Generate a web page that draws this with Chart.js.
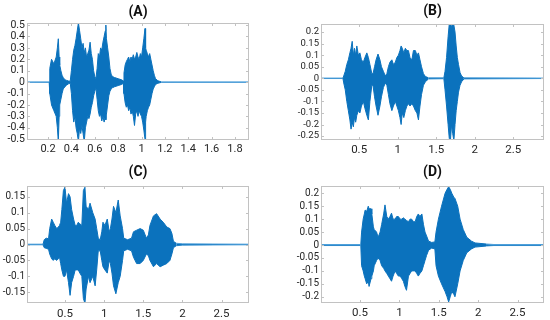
<!DOCTYPE html>
<html>
<head>
<meta charset="utf-8">
<script src="https://cdn.jsdelivr.net/npm/chart.js@4/dist/chart.umd.min.js"></script>
<style>
  body { margin: 0; background: #fff; }
  #wrap { position: relative; width: 550px; height: 320px; }
  canvas { position: absolute; }
</style>
</head>
<body>
<div id="wrap">
  <canvas id="chart-a" width="275" height="160" style="left:0;top:0"></canvas>
  <canvas id="chart-b" width="275" height="160" style="left:275px;top:0"></canvas>
  <canvas id="chart-c" width="275" height="160" style="left:0;top:160px"></canvas>
  <canvas id="chart-d" width="275" height="160" style="left:275px;top:160px"></canvas>
</div>
<script>
// (A) envelope of the waveform, seconds / amplitude
const aTime = [0.02, 0.21, 0.215, 0.23, 0.25, 0.27, 0.28, 0.288, 0.295, 0.30, 0.31, 0.32, 0.33, 0.345, 0.36, 0.375, 0.39,
  0.40, 0.41, 0.42, 0.43, 0.44, 0.45, 0.46, 0.47, 0.48, 0.49, 0.50, 0.51, 0.52, 0.53, 0.54, 0.55, 0.56, 0.57, 0.58, 0.59,
  0.60, 0.61, 0.62, 0.63, 0.64, 0.65, 0.66, 0.67, 0.68, 0.69, 0.695, 0.70, 0.71, 0.72, 0.73, 0.74, 0.75, 0.77, 0.80, 0.83,
  0.845, 0.85, 0.86, 0.87, 0.88, 0.89, 0.90, 0.91, 0.92, 0.93, 0.94, 0.95, 0.96, 0.97, 0.98, 0.99, 1.00, 1.01, 1.02, 1.03,
  1.035, 1.04, 1.05, 1.06, 1.07, 1.08, 1.09, 1.10, 1.11, 1.12, 1.14, 1.17, 1.92]
const aUpper = [0.001, 0.002, 0.12, 0.2, 0.16, 0.22, 0.3, 0.38, 0.22, 0.15, 0.1, 0.06, 0.04, 0.02, 0.015, 0.01, 0.008,
  0.1, 0.2, 0.28, 0.32, 0.38, 0.45, 0.52, 0.45, 0.38, 0.3, 0.34, 0.26, 0.3, 0.22, 0.25, 0.28, 0.35, 0.25, 0.2, 0.1,
  0.05, 0.03, 0.12, 0.25, 0.22, 0.3, 0.28, 0.35, 0.4, 0.45, 0.5, 0.38, 0.3, 0.22, 0.12, 0.07, 0.05, 0.04, 0.03, 0.02,
  0.01, 0.08, 0.15, 0.18, 0.2, 0.22, 0.18, 0.22, 0.2, 0.24, 0.2, 0.22, 0.26, 0.22, 0.2, 0.25, 0.22, 0.3, 0.38, 0.47,
  0.3, 0.28, 0.25, 0.22, 0.25, 0.2, 0.15, 0.1, 0.06, 0.03, 0.012, 0.002, 0.001]
const aLower = [-0.001, -0.002, -0.1, -0.2, -0.25, -0.3, -0.4, -0.52, -0.3, -0.2, -0.15, -0.1, -0.06, -0.04, -0.025, -0.015, -0.008,
  -0.1, -0.25, -0.35, -0.3, -0.4, -0.45, -0.52, -0.4, -0.45, -0.38, -0.45, -0.52, -0.4, -0.35, -0.3, -0.32, -0.28, -0.22, -0.18, -0.12,
  -0.08, -0.05, -0.15, -0.25, -0.3, -0.28, -0.34, -0.3, -0.35, -0.3, -0.33, -0.28, -0.2, -0.12, -0.08, -0.06, -0.05, -0.04, -0.03, -0.02,
  -0.01, -0.1, -0.18, -0.22, -0.2, -0.25, -0.22, -0.28, -0.25, -0.3, -0.38, -0.28, -0.25, -0.3, -0.25, -0.28, -0.3, -0.35, -0.42, -0.5,
  -0.35, -0.3, -0.25, -0.22, -0.2, -0.15, -0.1, -0.06, -0.04, -0.02, -0.01, -0.002, -0.001]
const aXTicks = [0.2, 0.4, 0.6, 0.8, 1, 1.2, 1.4, 1.6, 1.8]
const aYTicks = [-0.5, -0.4, -0.3, -0.2, -0.1, 0, 0.1, 0.2, 0.3, 0.4, 0.5]

// (B)
const bTime = [0.005, 0.29, 0.30, 0.32, 0.34, 0.36, 0.38, 0.395, 0.41, 0.425, 0.44, 0.455, 0.47, 0.49, 0.51, 0.53, 0.555,
  0.575, 0.60, 0.62, 0.64, 0.665, 0.68, 0.70, 0.72, 0.745, 0.77, 0.79, 0.815, 0.84, 0.86, 0.88, 0.90, 0.925, 0.945, 0.97,
  0.99, 1.01, 1.03, 1.045, 1.06, 1.08, 1.10, 1.12, 1.14, 1.16, 1.185, 1.205, 1.23, 1.25, 1.27, 1.29, 1.31, 1.335, 1.36,
  1.40, 1.60, 1.615, 1.635, 1.655, 1.67, 1.685, 1.70, 1.715, 1.73, 1.745, 1.76, 1.775, 1.79, 1.81, 1.83, 1.86, 2.9]
const bUpper = [0.001, 0.001, 0.01, 0.03, 0.06, 0.08, 0.11, 0.13, 0.16, 0.1, 0.13, 0.1, 0.14, 0.1, 0.11, 0.08, 0.07,
  0.09, 0.11, 0.09, 0.06, 0.02, 0.02, 0.05, 0.08, 0.105, 0.08, 0.05, 0.03, 0.01, 0.02, 0.05, 0.07, 0.08, 0.06, 0.07,
  0.09, 0.1, 0.12, 0.14, 0.13, 0.11, 0.13, 0.12, 0.12, 0.09, 0.08, 0.12, 0.12, 0.1, 0.11, 0.08, 0.05, 0.02, 0.008,
  0.002, 0.002, 0.03, 0.09, 0.18, 0.235, 0.24, 0.22, 0.24, 0.23, 0.2, 0.14, 0.09, 0.06, 0.025, 0.01, 0.002, 0.001]
const bLower = [-0.001, -0.001, -0.02, -0.05, -0.1, -0.14, -0.18, -0.22, -0.19, -0.21, -0.17, -0.19, -0.16, -0.14, -0.15, -0.12, -0.1,
  -0.13, -0.16, -0.18, -0.1, -0.03, -0.03, -0.08, -0.12, -0.16, -0.12, -0.08, -0.04, -0.02, -0.03, -0.07, -0.11, -0.14, -0.12, -0.1,
  -0.12, -0.14, -0.17, -0.2, -0.15, -0.17, -0.14, -0.12, -0.11, -0.12, -0.11, -0.12, -0.14, -0.15, -0.18, -0.12, -0.07, -0.03, -0.015,
  -0.003, -0.002, -0.05, -0.12, -0.2, -0.26, -0.27, -0.2, -0.24, -0.27, -0.2, -0.14, -0.1, -0.06, -0.03, -0.015, -0.003, -0.001]
const bXTicks = [0.5, 1, 1.5, 2, 2.5]
const bYTicks = [-0.25, -0.2, -0.15, -0.1, -0.05, 0, 0.05, 0.1, 0.15, 0.2]

// (C)
const cTime = [0.015, 0.22, 0.235, 0.26, 0.29, 0.305, 0.33, 0.35, 0.37, 0.395, 0.415, 0.43, 0.445, 0.46, 0.48, 0.50, 0.52,
  0.545, 0.565, 0.585, 0.61, 0.63, 0.65, 0.67, 0.69, 0.715, 0.735, 0.755, 0.77, 0.80, 0.82, 0.855, 0.885, 0.905, 0.925,
  0.95, 0.97, 0.985, 1.01, 1.04, 1.065, 1.08, 1.10, 1.12, 1.15, 1.18, 1.205, 1.235, 1.25, 1.30, 1.35, 1.375, 1.415, 1.46,
  1.50, 1.54, 1.565, 1.585, 1.63, 1.67, 1.715, 1.755, 1.80, 1.84, 1.865, 1.885, 1.92, 2.0, 2.85]
const cUpper = [0.001, 0.001, 0.015, 0.02, 0.018, 0.05, 0.08, 0.07, 0.06, 0.05, 0.055, 0.06, 0.07, 0.11, 0.17, 0.18, 0.13,
  0.16, 0.15, 0.11, 0.08, 0.06, 0.06, 0.07, 0.065, 0.06, 0.17, 0.18, 0.12, 0.11, 0.13, 0.1, 0.08, 0.05, 0.02,
  0.015, 0.04, 0.07, 0.06, 0.08, 0.04, 0.05, 0.08, 0.12, 0.1, 0.14, 0.09, 0.05, 0.02, 0.015, 0.02, 0.04, 0.045, 0.05,
  0.045, 0.02, 0.03, 0.06, 0.09, 0.097, 0.08, 0.07, 0.055, 0.05, 0.035, 0.01, 0.004, 0.002, 0.001]
const cLower = [-0.001, -0.001, -0.01, -0.012, -0.015, -0.03, -0.045, -0.05, -0.045, -0.05, -0.045, -0.04, -0.06, -0.08, -0.1, -0.1, -0.08,
  -0.12, -0.16, -0.12, -0.1, -0.08, -0.08, -0.08, -0.09, -0.1, -0.17, -0.185, -0.14, -0.1, -0.12, -0.1, -0.13, -0.08, -0.02,
  -0.02, -0.05, -0.07, -0.08, -0.09, -0.05, -0.06, -0.09, -0.13, -0.155, -0.12, -0.1, -0.05, -0.02, -0.015, -0.02, -0.04, -0.06, -0.06,
  -0.05, -0.03, -0.035, -0.05, -0.07, -0.06, -0.07, -0.065, -0.06, -0.05, -0.03, -0.01, -0.004, -0.002, -0.001]
const cXTicks = [0.5, 1, 1.5, 2, 2.5]
const cYTicks = [-0.15, -0.1, -0.05, 0, 0.05, 0.1, 0.15]

// (D)
const dTime = [0.005, 0.51, 0.52, 0.54, 0.555, 0.565, 0.585, 0.605, 0.615, 0.64, 0.65, 0.67, 0.68, 0.71, 0.73, 0.755, 0.775,
  0.80, 0.817, 0.84, 0.86, 0.88, 0.90, 0.92, 0.945, 0.965, 0.987, 1.01, 1.03, 1.05, 1.07, 1.09, 1.115, 1.135, 1.155, 1.18,
  1.2, 1.22, 1.24, 1.26, 1.285, 1.305, 1.325, 1.345, 1.37, 1.41, 1.45, 1.465, 1.495, 1.535, 1.58, 1.605, 1.625, 1.645,
  1.665, 1.69, 1.705, 1.74, 1.77, 1.81, 1.855, 1.915, 1.96, 2.1, 2.2, 2.84]
const dUpper = [0.002, 0.002, 0.05, 0.1, 0.12, 0.135, 0.13, 0.15, 0.14, 0.14, 0.12, 0.07, 0.06, 0.05, 0.03, 0.05, 0.08,
  0.12, 0.155, 0.11, 0.1, 0.11, 0.123, 0.1, 0.1, 0.11, 0.11, 0.1, 0.1, 0.105, 0.1, 0.095, 0.09, 0.1, 0.1, 0.09,
  0.09, 0.11, 0.12, 0.11, 0.12, 0.08, 0.05, 0.035, 0.015, 0.01, 0.012, 0.05, 0.1, 0.15, 0.2, 0.215, 0.225, 0.215,
  0.2, 0.185, 0.18, 0.15, 0.1, 0.06, 0.03, 0.015, 0.008, 0.004, 0.002, 0.002]
const dLower = [-0.002, -0.002, -0.08, -0.1, -0.12, -0.13, -0.15, -0.14, -0.16, -0.13, -0.12, -0.1, -0.08, -0.06, -0.05, -0.06, -0.08,
  -0.09, -0.1, -0.11, -0.12, -0.13, -0.14, -0.12, -0.1, -0.11, -0.12, -0.12, -0.13, -0.14, -0.16, -0.175, -0.12, -0.11, -0.1, -0.1,
  -0.1, -0.11, -0.12, -0.11, -0.1, -0.08, -0.06, -0.04, -0.02, -0.012, -0.015, -0.08, -0.12, -0.15, -0.18, -0.2, -0.22, -0.2,
  -0.18, -0.19, -0.2, -0.15, -0.1, -0.06, -0.03, -0.015, -0.008, -0.004, -0.002, -0.002]
const dXTicks = [0.5, 1, 1.5, 2, 2.5]
const dYTicks = [-0.2, -0.15, -0.1, -0.05, 0, 0.05, 0.1, 0.15, 0.2]

const BLUE = '#0b72bd'
const QUIET = '#4fa0da'
const FONT = 'Roboto, "Open Sans", sans-serif'

// MATLAB style box with inward ticks on all four sides
const frame = {
  id: 'frame',
  afterDatasetsDraw(chart) {
    const { ctx, chartArea: a, scales: { x, y } } = chart
    ctx.save()
    ctx.strokeStyle = '#c2c2c2'
    ctx.lineWidth = 1
    ctx.strokeRect(a.left + 0.5, a.top + 0.5, a.width - 1, a.height - 1)
    ctx.beginPath()
    x.ticks.forEach(t => {
      const px = Math.round(x.getPixelForValue(t.value)) + 0.5
      ctx.moveTo(px, a.bottom); ctx.lineTo(px, a.bottom - 3)
      ctx.moveTo(px, a.top); ctx.lineTo(px, a.top + 3)
    })
    y.ticks.forEach(t => {
      const py = Math.round(y.getPixelForValue(t.value)) + 0.5
      ctx.moveTo(a.left, py); ctx.lineTo(a.left + 3, py)
      ctx.moveTo(a.right, py); ctx.lineTo(a.right - 3, py)
    })
    ctx.stroke()
    ctx.restore()
  }
}

// silent stretches render as a thin light line, like the original plot
const quiet = ctx => Math.abs(ctx.p0.parsed.y) < 0.005 && Math.abs(ctx.p1.parsed.y) < 0.005 ? QUIET : undefined

function drawWave(id, p) {
  const pts = arr => p.time.map((t, i) => ({ x: t, y: arr[i] }))
  const line = { borderColor: BLUE, backgroundColor: BLUE, borderWidth: 1, pointRadius: 0, segment: { borderColor: quiet } }
  new Chart(document.getElementById(id), {
    type: 'line',
    data: {
      datasets: [
        { ...line, data: pts(p.upper), fill: '+1' },
        { ...line, data: pts(p.lower), fill: false }
      ]
    },
    options: {
      responsive: false,
      animation: false,
      devicePixelRatio: 1,
      layout: { padding: { left: 0, right: p.padRight, top: 0, bottom: 0 } },
      plugins: {
        legend: { display: false },
        tooltip: { enabled: false },
        title: {
          display: true,
          text: p.title,
          fullSize: false,
          color: '#111',
          font: { family: FONT, size: 14, weight: 'bold', lineHeight: 1.2 },
          padding: { top: p.titleTop, bottom: p.titleBottom }
        }
      },
      scales: {
        x: {
          type: 'linear',
          min: p.xMin, max: p.xMax,
          grid: { display: false, drawTicks: false },
          border: { display: false },
          afterBuildTicks: s => { s.ticks = p.xTicks.map(v => ({ value: v })) },
          afterFit: s => { s.height = p.xHeight },
          ticks: { color: '#262626', padding: p.xPad, maxRotation: 0, autoSkip: false,
            font: { family: FONT, size: p.xFont }, callback: v => String(v) }
        },
        y: {
          min: p.yMin, max: p.yMax,
          grid: { display: false, drawTicks: false },
          border: { display: false },
          afterBuildTicks: s => { s.ticks = p.yTicks.map(v => ({ value: v })) },
          afterFit: s => { s.width = p.yWidth },
          ticks: { color: '#262626', padding: 2, autoSkip: false,
            font: { family: FONT, size: p.yFont }, callback: v => String(v) }
        }
      }
    },
    plugins: [frame]
  })
}

drawWave('chart-a', { title: '(A)', time: aTime, upper: aUpper, lower: aLower, xTicks: aXTicks, yTicks: aYTicks,
  xMin: 0.02, xMax: 1.92, yMin: -0.507, yMax: 0.518, yWidth: 27, padRight: 26, xHeight: 20,
  titleTop: 3.6, titleBottom: 2.6, xPad: 3, xFont: 11, yFont: 10.5 })
drawWave('chart-b', { title: '(B)', time: bTime, upper: bUpper, lower: bLower, xTicks: bXTicks, yTicks: bYTicks,
  xMin: 0.005, xMax: 2.9, yMin: -0.267, yMax: 0.235, yWidth: 46, padRight: 6, xHeight: 20,
  titleTop: 2.6, titleBottom: 4.6, xPad: 3, xFont: 11.5, yFont: 9.5 })
drawWave('chart-c', { title: '(C)', time: cTime, upper: cUpper, lower: cLower, xTicks: cXTicks, yTicks: cYTicks,
  xMin: 0.015, xMax: 2.85, yMin: -0.184, yMax: 0.184, yWidth: 27, padRight: 26, xHeight: 17,
  titleTop: 3.6, titleBottom: 5.6, xPad: 4, xFont: 11.5, yFont: 10 })
drawWave('chart-d', { title: '(D)', time: dTime, upper: dUpper, lower: dLower, xTicks: dXTicks, yTicks: dYTicks,
  xMin: 0.005, xMax: 2.835, yMin: -0.224, yMax: 0.228, yWidth: 46, padRight: 6, xHeight: 17,
  titleTop: 3.6, titleBottom: 5.6, xPad: 3, xFont: 11.5, yFont: 10 })
</script>
</body>
</html>
